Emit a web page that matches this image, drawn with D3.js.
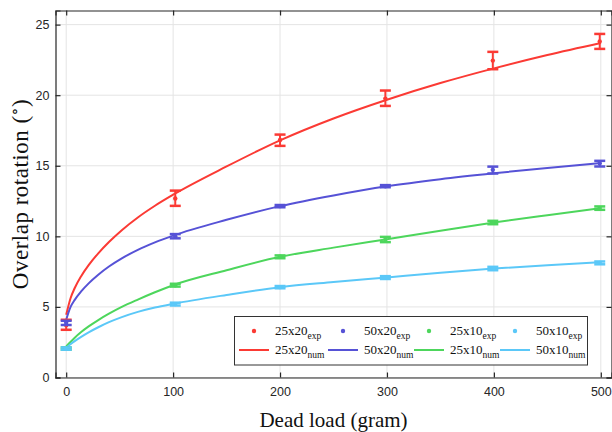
<!DOCTYPE html>
<html>
<head>
<meta charset="utf-8">
<script src="https://cdn.jsdelivr.net/npm/d3@7"></script>
<style>
  body { margin: 0; background: #fff; }
  svg { display: block; }
</style>
</head>
<body>
<div id="chart"></div>
<script>
// experimental loads (gram)
var expLoad = [0, 102, 200, 298.5, 399, 499];

var exp25x20 = [3.7, 12.68, 16.83, 19.76, 22.45, 23.8];
var exp25x20Lo = [3.38, 12.16, 16.41, 19.24, 21.84, 23.28];
var exp25x20Hi = [4.09, 13.24, 17.21, 20.33, 23.07, 24.34];

var exp50x20 = [3.87, 10.01, 12.14, 13.55, 14.71, 15.18];
var exp50x20Lo = [3.72, 9.86, 12.06, 13.48, 14.45, 14.95];
var exp50x20Hi = [4.02, 10.16, 12.22, 13.63, 14.94, 15.35];

var exp25x10 = [2.05, 6.54, 8.55, 9.77, 10.98, 12.0];
var exp25x10Lo = [1.97, 6.44, 8.45, 9.59, 10.86, 11.88];
var exp25x10Hi = [2.13, 6.64, 8.65, 9.96, 11.1, 12.12];

var exp50x10 = [2.05, 5.2, 6.4, 7.08, 7.72, 8.12];
var exp50x10Lo = [1.97, 5.1, 6.32, 6.98, 7.6, 8.02];
var exp50x10Hi = [2.13, 5.3, 6.48, 7.18, 7.84, 8.22];

// numerical curves
var numLoad = [0, 4, 8, 14, 21, 30, 40, 52, 67, 83, 100, 150, 200, 250, 300, 350, 400, 450, 500];
var num25x20 = [4.44, 5.6, 6.34, 7.18, 7.96, 8.8, 9.6, 10.44, 11.34, 12.17, 12.95, 14.95, 16.8, 18.35, 19.68, 20.86, 21.9, 22.85, 23.7];
var num50x20 = [4.09, 4.98, 5.5, 6.1, 6.67, 7.28, 7.86, 8.44, 9.04, 9.57, 10.05, 11.17, 12.14, 12.9, 13.55, 14.05, 14.47, 14.85, 15.2];
var num25x10 = [2.2, 2.52, 2.82, 3.22, 3.62, 4.07, 4.52, 5.0, 5.52, 6.04, 6.54, 7.6, 8.55, 9.2, 9.8, 10.4, 10.98, 11.5, 12.0];
var num50x10 = [2.12, 2.36, 2.58, 2.88, 3.2, 3.56, 3.92, 4.28, 4.65, 4.96, 5.22, 5.85, 6.4, 6.76, 7.09, 7.42, 7.72, 7.96, 8.16];

var seriesNames = ['25x20', '50x20', '25x10', '50x10'];
var xTicks = [0, 100, 200, 300, 400, 500];
var yTicks = [0, 5, 10, 15, 20, 25];

var colors = ['#fb3a34', '#5652d6', '#4dd65c', '#5bc8f8'];

var W = 612, H = 432;
var margin = {top: 10.5, right: 0.5, bottom: 54.5, left: 55.5},
    width = W - margin.left - margin.right,
    height = H - margin.top - margin.bottom;

var svg = d3.select('#chart').append('svg')
  .attr('width', W).attr('height', H)

var g = svg.append('g')
  .attr('transform', 'translate(' + margin.left + ',' + margin.top + ')');

var x = d3.scaleLinear().domain([-10, 510]).range([0, width]);
var y = d3.scaleLinear().domain([0, 26]).range([height, 0]);

// grid
g.append('g').selectAll('line.gx').data(xTicks).enter().append('line')
  .attr('x1', function(d){ return x(d); }).attr('x2', function(d){ return x(d); })
  .attr('y1', 0).attr('y2', height)
  .style('stroke', '#e4e4e4').style('stroke-width', 1);
g.append('g').selectAll('line.gy').data(yTicks).enter().append('line')
  .attr('y1', function(d){ return y(d); }).attr('y2', function(d){ return y(d); })
  .attr('x1', 0).attr('x2', width)
  .style('stroke', '#e4e4e4').style('stroke-width', 1);

// numerical curves
var nums = [num25x20, num50x20, num25x10, num50x10];
nums.forEach(function(vals, i){
  var pts = numLoad.map(function(l, j){ return [l, vals[j]]; });
  var line = d3.line()
    .x(function(d){ return x(d[0]); })
    .y(function(d){ return y(d[1]); })
    .curve(d3.curveMonotoneX);
  g.append('path')
    .datum(pts)
    .attr('d', line)
    .attr('fill', 'none')
    .style('stroke', colors[i])
    .style('stroke-width', 2);
});

// experimental points with error bars
var exps = [
  [exp25x20, exp25x20Lo, exp25x20Hi],
  [exp50x20, exp50x20Lo, exp50x20Hi],
  [exp25x10, exp25x10Lo, exp25x10Hi],
  [exp50x10, exp50x10Lo, exp50x10Hi]
];
var cap = 5.5;
exps.forEach(function(e, i){
  var pts = expLoad.map(function(l, j){ return {x: l, y: e[0][j], lo: e[1][j], hi: e[2][j]}; });
  var eg = g.append('g').style('stroke', colors[i]).style('stroke-width', 2);
  eg.selectAll('line.v').data(pts).enter().append('line')
    .attr('x1', function(d){ return x(d.x); }).attr('x2', function(d){ return x(d.x); })
    .attr('y1', function(d){ return y(d.lo); }).attr('y2', function(d){ return y(d.hi); });
  eg.selectAll('line.lo').data(pts).enter().append('line')
    .attr('x1', function(d){ return x(d.x) - cap; }).attr('x2', function(d){ return x(d.x) + cap; })
    .attr('y1', function(d){ return y(d.lo); }).attr('y2', function(d){ return y(d.lo); })
    .style('stroke-width', 2.5);
  eg.selectAll('line.hi').data(pts).enter().append('line')
    .attr('x1', function(d){ return x(d.x) - cap; }).attr('x2', function(d){ return x(d.x) + cap; })
    .attr('y1', function(d){ return y(d.hi); }).attr('y2', function(d){ return y(d.hi); })
    .style('stroke-width', 2.5);
  g.selectAll('circle.p' + i).data(pts).enter().append('circle')
    .attr('class', 'p' + i)
    .attr('cx', function(d){ return x(d.x); })
    .attr('cy', function(d){ return y(d.y); })
    .attr('r', 2.2)
    .style('fill', colors[i]);
});

// axes (box with inward ticks)
var tickLen = 5;
var axColor = '#262626';
g.append('g').attr('transform', 'translate(0,' + height + ')')
  .call(d3.axisBottom(x).tickValues(xTicks).tickSize(-tickLen).tickPadding(10).tickFormat(d3.format('d')));
g.append('g')
  .call(d3.axisTop(x).tickValues(xTicks).tickSize(-tickLen).tickFormat(''));
g.append('g')
  .call(d3.axisLeft(y).tickValues(yTicks).tickSize(-tickLen).tickPadding(6).tickFormat(d3.format('d')));
g.append('g').attr('transform', 'translate(' + width + ',0)')
  .call(d3.axisRight(y).tickValues(yTicks).tickSize(-tickLen).tickFormat(''));

g.selectAll('.domain').style('stroke', axColor).style('stroke-width', 1.2);
g.selectAll('.tick line').style('stroke', axColor).style('stroke-width', 1.2);
g.selectAll('.tick text')
  .style('fill', axColor)
  .style('font-family', '"Liberation Sans", Arial, sans-serif')
  .style('font-size', '12.5px');

// axis labels
svg.append('text')
  .attr('x', margin.left + x(250))
  .attr('y', 427)
  .attr('text-anchor', 'middle')
  .style('font-family', '"Liberation Serif", "DejaVu Serif", serif')
  .style('font-size', '21px')
  .style('fill', '#111')
  .text('Dead load (gram)');

var yl = svg.append('text')
  .attr('transform', 'translate(28,' + (margin.top + y(13)) + ') rotate(-90)')
  .attr('text-anchor', 'middle')
  .style('font-family', '"Liberation Serif", "DejaVu Serif", serif')
  .style('font-size', '23px')
  .style('letter-spacing', '0.5px')
  .style('fill', '#111');
yl.append('tspan').text('Overlap rotation (');
yl.append('tspan').attr('dy', -8).style('font-size', '16px').text('\u2218');
yl.append('tspan').attr('dy', 8).text(')');

// legend
var lg = svg.append('g');
lg.append('rect')
  .attr('x', 234.5).attr('y', 316.5).attr('width', 353).attr('height', 48.5)
  .style('fill', '#fff').style('stroke', '#333').style('stroke-width', 1);

var itemX = [239, 328, 414, 500];
var textX = [275, 364, 450, 536];
var rowY = [331, 350];
var legFont = '"Liberation Serif", "DejaVu Serif", serif';

seriesNames.forEach(function(name, i){
  // exp row: marker
  lg.append('circle')
    .attr('cx', itemX[i] + 15).attr('cy', rowY[0])
    .attr('r', 2.2).style('fill', colors[i]);
  // num row: line
  lg.append('line')
    .attr('x1', itemX[i]).attr('x2', itemX[i] + 30)
    .attr('y1', rowY[1]).attr('y2', rowY[1])
    .style('stroke', colors[i]).style('stroke-width', 2);

  ['exp', 'num'].forEach(function(sub, r){
    var t = lg.append('text')
      .attr('x', textX[i]).attr('y', rowY[r] + 4)
      .style('font-family', legFont)
      .style('font-size', '13px')
      .style('fill', '#111');
    t.append('tspan').text(name);
    t.append('tspan').attr('dy', 4).style('font-size', '9.5px').text(sub);
  });
});
</script>
</body>
</html>
